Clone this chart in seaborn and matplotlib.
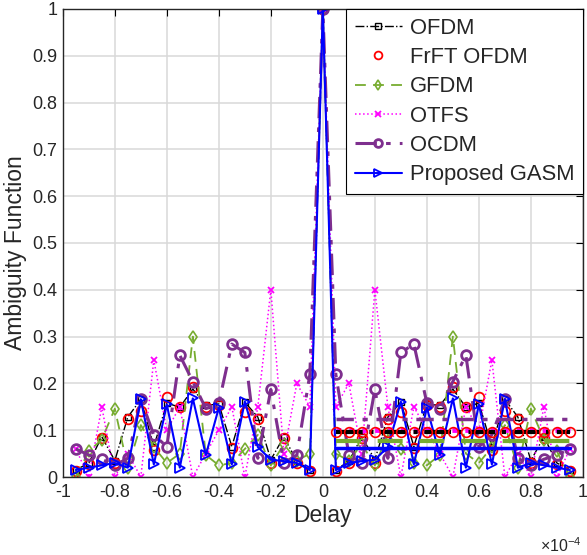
import numpy as np
import pandas as pd
import matplotlib
matplotlib.use('Agg')
import matplotlib.pyplot as plt
import seaborn as sns

# delay axis (units of 1e-4)
delay = [-0.95, -0.9, -0.85, -0.8, -0.75, -0.7, -0.65, -0.6, -0.55, -0.5,
         -0.45, -0.4, -0.35, -0.3, -0.25, -0.2, -0.15, -0.1, -0.05, 0.0,
         0.05, 0.1, 0.15, 0.2, 0.25, 0.3, 0.35, 0.4, 0.45, 0.5,
         0.55, 0.6, 0.65, 0.7, 0.75, 0.8, 0.85, 0.9, 0.95]
delay_pos = [0.05, 0.1, 0.15, 0.2, 0.25, 0.3, 0.35, 0.4, 0.45, 0.5,
             0.55, 0.6, 0.65, 0.7, 0.75, 0.8, 0.85, 0.9, 0.95]

ofdm = [0.015, 0.03, 0.086, 0.035, 0.128, 0.166, 0.065, 0.158, 0.149, 0.188,
        0.153, 0.156, 0.065, 0.16, 0.128, 0.037, 0.086, 0.034, 0.015, 1.0,
        0.015, 0.034, 0.086, 0.037, 0.128, 0.16, 0.065, 0.156, 0.153, 0.188,
        0.149, 0.158, 0.065, 0.166, 0.128, 0.035, 0.086, 0.03, 0.015]
frft = [0.012, 0.028, 0.084, 0.03, 0.123, 0.142, 0.057, 0.171, 0.149, 0.192,
        0.15, 0.153, 0.062, 0.139, 0.124, 0.03, 0.084, 0.03, 0.012, 1.0,
        0.012, 0.03, 0.084, 0.03, 0.124, 0.139, 0.062, 0.153, 0.15, 0.192,
        0.149, 0.171, 0.057, 0.142, 0.123, 0.03, 0.084, 0.028, 0.012]
gfdm = [0.0, 0.055, 0.08, 0.146, 0.02, 0.111, 0.064, 0.03, 0.05, 0.3,
        0.047, 0.025, 0.03, 0.06, 0.09, 0.025, 0.07, 0.035, 0.05, 1.0,
        0.05, 0.035, 0.07, 0.025, 0.09, 0.06, 0.03, 0.025, 0.047, 0.3,
        0.05, 0.03, 0.064, 0.111, 0.02, 0.146, 0.08, 0.055, 0.0]
otfs = [0.06, 0.0, 0.15, 0.0, 0.05, 0.0, 0.25, 0.1, 0.15, 0.0,
        0.05, 0.1, 0.15, 0.0, 0.15, 0.4, 0.05, 0.2, 0.15, 1.0,
        0.15, 0.2, 0.05, 0.4, 0.15, 0.0, 0.15, 0.1, 0.05, 0.0,
        0.15, 0.1, 0.25, 0.0, 0.05, 0.0, 0.15, 0.0, 0.06]
ocdm = [0.06, 0.047, 0.038, 0.025, 0.04, 0.166, 0.09, 0.065, 0.26, 0.204,
        0.146, 0.158, 0.284, 0.266, 0.04, 0.187, 0.03, 0.047, 0.219, 1.0,
        0.219, 0.047, 0.03, 0.187, 0.04, 0.266, 0.284, 0.158, 0.146, 0.204,
        0.26, 0.065, 0.09, 0.166, 0.04, 0.025, 0.038, 0.047, 0.06]
gasm = [0.015, 0.02, 0.025, 0.03, 0.02, 0.166, 0.027, 0.155, 0.02, 0.168,
        0.047, 0.148, 0.027, 0.161, 0.064, 0.037, 0.034, 0.03, 0.015, 1.0,
        0.015, 0.03, 0.034, 0.037, 0.064, 0.161, 0.027, 0.148, 0.047, 0.168,
        0.02, 0.155, 0.027, 0.166, 0.02, 0.03, 0.025, 0.02, 0.015]

# flat levels on the positive-delay side
level_ofdm = [0.096] * len(delay_pos)
level_frft = [0.096] * len(delay_pos)
level_gfdm = [0.078] * len(delay_pos)
level_otfs = [0.101] * len(delay_pos)
level_ocdm = [0.124] * len(delay_pos)
level_gasm = [0.063] * len(delay_pos)

sns.set_style('whitegrid')
plt.rcParams['font.family'] = ['Liberation Sans', 'DejaVu Sans']
plt.rcParams['mathtext.fontset'] = 'custom'
plt.rcParams['mathtext.rm'] = 'Liberation Sans'

fig = plt.figure(figsize=(5.87, 5.55), dpi=100)
ax = fig.add_axes([0.107, 0.1405, 0.886, 0.8435])

green = '#77AC30'
purple = '#7E2F8E'

sns.lineplot(x=delay, y=ofdm, ax=ax, color='k', linestyle='-.', lw=1,
             marker='s', markersize=5, markerfacecolor='none',
             markeredgecolor='k', mew=1, label='OFDM')
sns.lineplot(x=delay, y=frft, ax=ax, color='r', linestyle='none',
             marker='o', markersize=7, markerfacecolor='none',
             markeredgecolor='r', mew=1.3, label='FrFT OFDM')
sns.lineplot(x=delay, y=gfdm, ax=ax, color=green, linestyle=(0, (6, 4)), lw=1.3,
             marker='d', markersize=6, markerfacecolor='none',
             markeredgecolor=green, mew=1.2, label='GFDM')
sns.lineplot(x=delay, y=otfs, ax=ax, color='magenta', linestyle=':', lw=1.1,
             marker='x', markersize=5, markeredgecolor='magenta', mew=1.3,
             label='OTFS')
sns.lineplot(x=delay, y=ocdm, ax=ax, color=purple, linestyle=(0, (7, 3, 1.5, 3)), lw=2.2,
             marker='o', markersize=7, markerfacecolor='none',
             markeredgecolor=purple, mew=2, label='OCDM')
sns.lineplot(x=delay, y=gasm, ax=ax, color='b', linestyle='-', lw=1.5,
             marker='>', markersize=7, markerfacecolor='none',
             markeredgecolor='b', mew=1.3, label='Proposed GASM')

# flat lines
sns.lineplot(x=delay_pos, y=level_ocdm, ax=ax, color=purple, linestyle=(0, (5, 2.5, 1.5, 2.5)), lw=2.5, legend=False)
sns.lineplot(x=delay_pos, y=level_otfs, ax=ax, color='magenta', linestyle=':', lw=3.5, legend=False)
sns.lineplot(x=delay_pos, y=level_ofdm, ax=ax, color='k', linestyle='-.', lw=3, legend=False)
sns.lineplot(x=delay_pos, y=level_frft, ax=ax, color='r', linestyle='none', marker='o',
             markersize=7, markerfacecolor='none', markeredgecolor='r', mew=1.2, legend=False)
sns.lineplot(x=delay_pos, y=level_gfdm, ax=ax, color=green, linestyle=(0, (6, 4)), lw=3, legend=False)
sns.lineplot(x=delay_pos, y=level_gasm, ax=ax, color='b', linestyle='-', lw=2.5, legend=False)

ax.set_xlim(-1, 1)
ax.set_ylim(0, 1)
ax.set_xticks(np.arange(-1, 1.01, 0.2))
ax.set_xticklabels(['-1', '-0.8', '-0.6', '-0.4', '-0.2', '0', '0.2', '0.4', '0.6', '0.8', '1'])
ax.set_yticks(np.arange(0, 1.01, 0.1))
ax.set_yticklabels(['0', '0.1', '0.2', '0.3', '0.4', '0.5', '0.6', '0.7', '0.8', '0.9', '1'])
ax.grid(True, color='#d9d9d9', lw=1.1)
ax.tick_params(direction='in', top=True, right=True, length=5, width=0.8,
               labelsize=13, colors='k', pad=5)
ax.tick_params(axis='y', pad=4)
ax.tick_params(axis='x', labelcolor='#262626')
ax.tick_params(axis='y', labelcolor='#262626')
for s in ax.spines.values():
    s.set_color('#262626')
    s.set_linewidth(1)

ax.set_xlabel('Delay', fontsize=16.5, color='#262626', labelpad=2)
ax.set_ylabel('Ambiguity Function', fontsize=16.5, color='#262626')
ax.yaxis.set_label_coords(-0.068, 0.48)
ax.text(0.998, -0.146, r'$\times$10$^{-4}$', transform=ax.transAxes, ha='right',
        va='center', fontsize=11.5, color='#262626')

leg = ax.legend(loc='upper right', borderaxespad=0, fontsize=15.8, frameon=True,
                fancybox=False, edgecolor='k', framealpha=1, handlelength=2.15,
                numpoints=1, labelspacing=0.38, borderpad=0.4, handletextpad=0.35,
                markerscale=0.8)
leg.get_frame().set_linewidth(0.8)

fig.savefig('out.png', dpi=100)
